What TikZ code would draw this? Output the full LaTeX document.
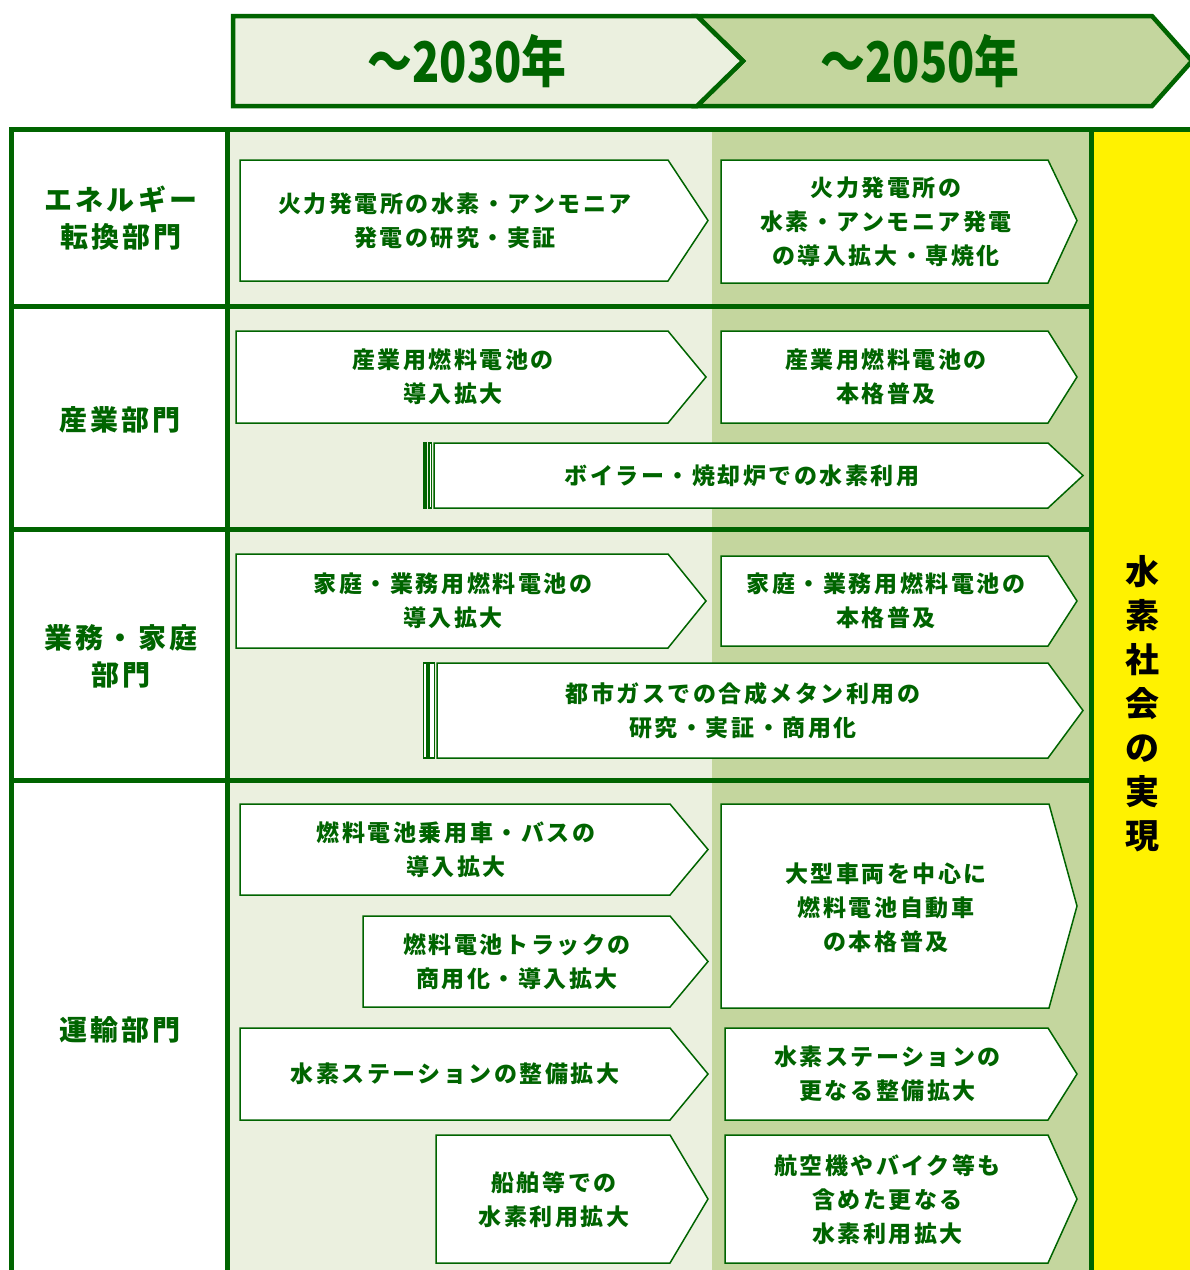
\documentclass[tikz,border=0pt]{standalone}
\usepackage{fontspec}
\usepackage{graphicx}
\newfontfamily\jp{Noto Sans CJK JP}[LetterSpace=11]
\newfontfamily\jphead{Noto Sans CJK JP}
\definecolor{dgreen}{RGB}{0,100,0}
\definecolor{palegreen}{RGB}{235,240,223}
\definecolor{midgreen}{RGB}{196,214,158}
\begin{document}
\begin{tikzpicture}[x=1pt,y=-1pt]
			\tikzstyle{rule} = [draw=dgreen, line width=5pt]
			\tikzstyle{head} = [draw=dgreen, line width=4.5pt, line join=miter]
			\tikzstyle{pent} = [draw=dgreen, line width=1.5pt, fill=white]
			\tikzstyle{stripe} = [draw=dgreen, line width=1.2pt, fill=white]
			\tikzstyle{headtxt} = [text=dgreen, inner sep=0, font=\jphead\bfseries\fontsize{56}{60}\selectfont]
			\tikzstyle{txt} = [text=dgreen, inner sep=0, align=center, font=\jp\bfseries\fontsize{23}{34}\selectfont]
			\tikzstyle{sect} = [text=dgreen, inner sep=0, align=center, font=\jp\bfseries\fontsize{28}{37}\selectfont]
			\useasboundingbox (0,0) rectangle (1190,1270);
			\draw[head, fill=midgreen] (697,16) -- (1152,16) -- (1192,61) -- (1152,106) -- (697,106) -- (743,61) -- cycle;
			\draw[head, fill=palegreen] (233,16) -- (697,16) -- (743,61) -- (697,106) -- (233,106) -- cycle;
			\node[headtxt] (y2030) at (467,61) {\scalebox{0.8}[1]{～2030年}};
			\node[headtxt] (y2050) at (920,61) {\scalebox{0.8}[1]{～2050年}};
			\fill[palegreen] (227,129) rectangle (712,1280);
			\fill[midgreen] (712,129) rectangle (1091,1280);
			\fill[yellow] (1091,129) rectangle (1200,1280);
			\draw[rule] (11,1280) -- (11,129) -- (1200,129);
			\draw[rule] (227,129) -- (227,1280);
			\draw[rule] (1091,129) -- (1091,1280);
			\draw[rule] (11,306) -- (1091,306);
			\draw[rule] (11,529) -- (1091,529);
			\draw[rule] (11,780) -- (1091,780);
			\node[sect] (energy) at (121,218.5) {エネルギー\\転換部門};
			\node[sect] (industry) at (120,420) {産業部門};
			\node[sect] (home) at (121,656) {業務・家庭\\部門};
			\node[sect] (transport) at (120,1030) {運輸部門};
			\node[align=center, inner sep=0, font=\jphead\bfseries\fontsize{34}{44}\selectfont] (goal) at (1142,704) {水\\素\\社\\会\\の\\実\\現};
			\draw[pent] (240,160) -- (668,160) -- (708,220.5) -- (668,281) -- (240,281) -- cycle;
			\node[txt] (a1) at (455,220.5) {火力発電所の水素・アンモニア\\発電の研究・実証};
			\draw[pent] (721,160) -- (1048,160) -- (1077,220.5) -- (1048,283) -- (721,283) -- cycle;
			\node[txt] (b1) at (886,221.5) {火力発電所の\\水素・アンモニア発電\\の導入拡大・専焼化};
			\draw[pent] (236,331) -- (668,331) -- (706,377) -- (668,423) -- (236,423) -- cycle;
			\node[txt] (a2) at (453,377) {産業用燃料電池の\\導入拡大};
			\draw[pent] (721,331) -- (1048,331) -- (1077,377) -- (1048,423) -- (721,423) -- cycle;
			\node[txt] (b2) at (886,377) {産業用燃料電池の\\本格普及};
			\draw[stripe, fill=dgreen] (423.5,443) rectangle (426.5,508);
			\draw[stripe] (429,443) rectangle (431.5,508);
			\draw[pent] (434,443) -- (1048,443) -- (1083,475.5) -- (1048,508) -- (434,508) -- cycle;
			\node[txt] (c2) at (742,475.5) {ボイラー・焼却炉での水素利用};
			\draw[pent] (236,554) -- (668,554) -- (706,601) -- (668,648) -- (236,648) -- cycle;
			\node[txt] (a3) at (453,601) {家庭・業務用燃料電池の\\導入拡大};
			\draw[pent] (721,556) -- (1048,556) -- (1077,601) -- (1048,646) -- (721,646) -- cycle;
			\node[txt] (b3) at (886,601) {家庭・業務用燃料電池の\\本格普及};
			\draw[stripe] (423.5,663) rectangle (427,758);
			\draw[stripe] (429,663) rectangle (434.5,758);
			\draw[pent] (437,663) -- (1048,663) -- (1083,710.5) -- (1048,758) -- (437,758) -- cycle;
			\node[txt] (c3) at (743,710.5) {都市ガスでの合成メタン利用の\\研究・実証・商用化};
			\draw[pent] (240,804) -- (670,804) -- (708,849.5) -- (670,895) -- (240,895) -- cycle;
			\node[txt] (a4) at (456,849.5) {燃料電池乗用車・バスの\\導入拡大};
			\draw[pent] (363,916) -- (670,916) -- (708,961.5) -- (670,1007) -- (363,1007) -- cycle;
			\node[txt] (a5) at (517,961.5) {燃料電池トラックの\\商用化・導入拡大};
			\draw[pent] (721,804) -- (1049,804) -- (1077,906) -- (1049,1008) -- (721,1008) -- cycle;
			\node[txt] (b4) at (886,908) {大型車両を中心に\\燃料電池自動車\\の本格普及};
			\draw[pent] (240,1028) -- (670,1028) -- (708,1074) -- (670,1120) -- (240,1120) -- cycle;
			\node[txt] (a6) at (455,1074) {水素ステーションの整備拡大};
			\draw[pent] (725,1028) -- (1048,1028) -- (1077,1074) -- (1048,1120) -- (725,1120) -- cycle;
			\node[txt] (b6) at (887.5,1074) {水素ステーションの\\更なる整備拡大};
			\draw[pent] (436,1135) -- (670,1135) -- (708,1199) -- (670,1263) -- (436,1263) -- cycle;
			\node[txt] (a7) at (554,1200) {船舶等での\\水素利用拡大};
			\draw[pent] (725,1135) -- (1048,1135) -- (1077,1199) -- (1048,1263) -- (725,1263) -- cycle;
			\node[txt] (b7) at (887.5,1200) {航空機やバイク等も\\含めた更なる\\水素利用拡大};
\end{tikzpicture}
\end{document}
